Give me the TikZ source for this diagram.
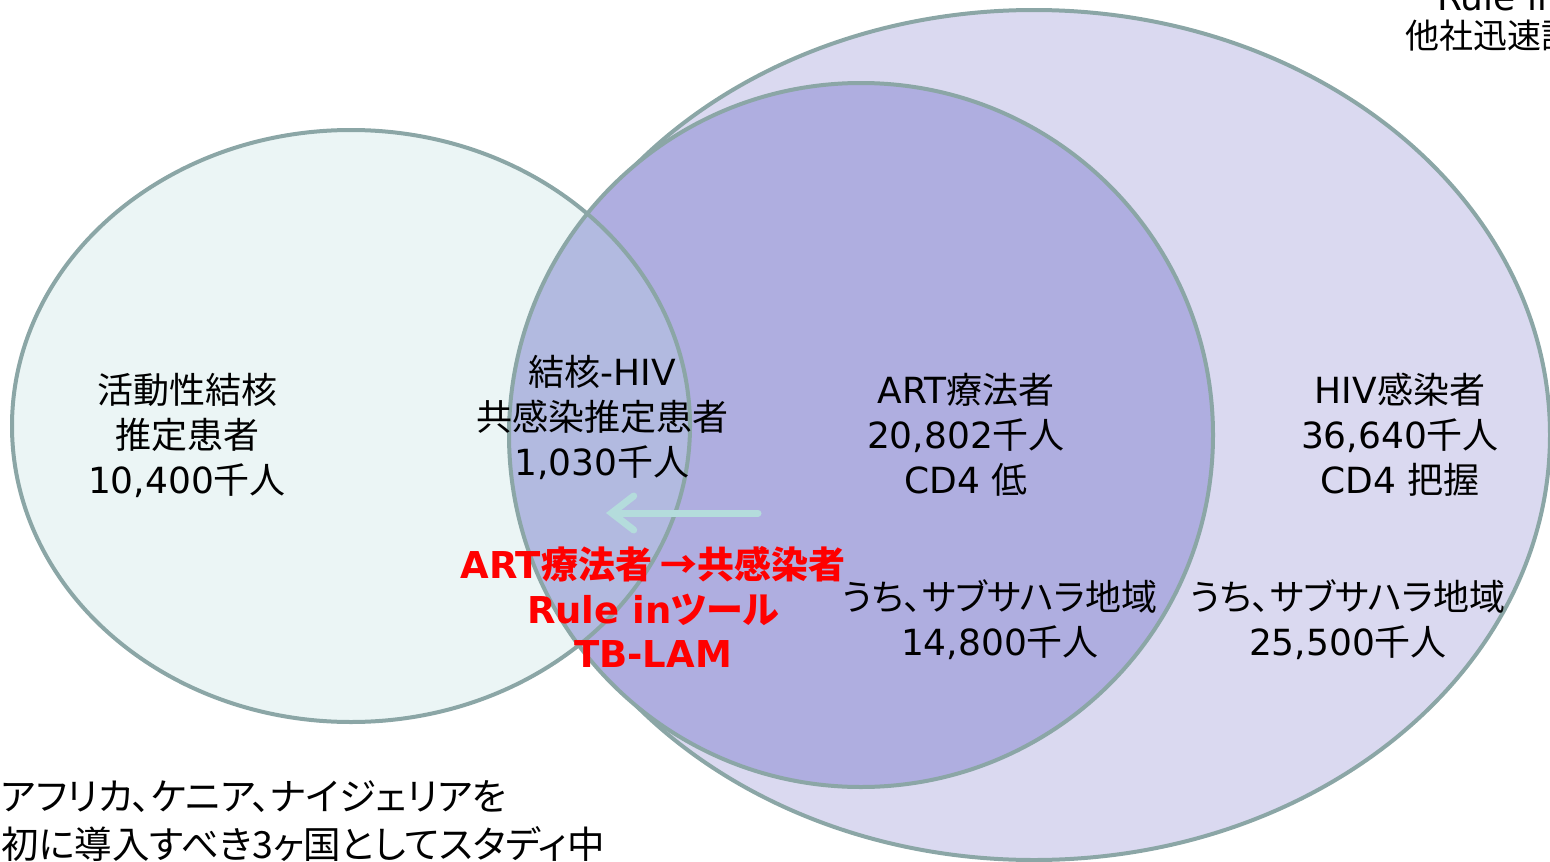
\documentclass[tikz,border=0pt]{standalone}
\usepackage{fontspec}
\setmainfont{DejaVu Sans}
\newfontfamily\jp[RawFeature=+palt]{Noto Sans CJK JP}
\usetikzlibrary{arrows.meta}
\definecolor{edgec}{HTML}{8BA6A6}
\definecolor{tbfill}{HTML}{EBF5F5}
\definecolor{hivfill}{HTML}{DAD9F0}
\definecolor{artfill}{HTML}{AFAEE0}
\definecolor{ovfill}{HTML}{B2BAE0}
\definecolor{arrowc}{HTML}{B4DCDC}
\definecolor{redt}{HTML}{FF0000}
\begin{document}
\begin{tikzpicture}[x=1pt,y=-1pt,
  txt/.style={align=center, font=\fontsize{36}{45}\selectfont, inner sep=0pt},
  redtxt/.style={txt, text=redt, font=\fontsize{37}{44.5}\selectfont\bfseries},
  outline/.style={draw=edgec, line width=4pt}]
\useasboundingbox (0,0) rectangle (1550,862);
\begin{scope}
\clip (0,0) rectangle (1550,862);
% HIV ellipse
\path[fill=hivfill, outline] (1034,435) ellipse [x radius=516, y radius=425];
% ART and TB fills
\path[fill=artfill] (861,435) circle [radius=352];
\path[fill=tbfill] (351,426) ellipse [x radius=339, y radius=296];
\begin{scope}
  \clip (351,426) ellipse [x radius=339, y radius=296];
  \path[fill=ovfill] (861,435) circle [radius=352];
\end{scope}
% outlines
\draw[outline] (861,435) circle [radius=352];
\draw[outline] (351,426) ellipse [x radius=339, y radius=296];
% arrow
\coordinate (arrS) at (758,513);
\coordinate (arrE) at (606,513);
\draw[arrowc, line width=7pt, line cap=round,
  -{Straight Barb[length=22pt,width=34pt,line cap=round]}] (arrS) -- (arrE);
% texts
\node[txt] (tb) at (187,435) {{\jp 活動性結核}\\{\jp 推定患者}\\10,400{\jp 千人}};
\node[txt] (co) at (602,417) {{\jp 結核}-HIV\\{\jp 共感染推定患者}\\1,030{\jp 千人}};
\node[txt] (art) at (966,435) {ART{\jp 療法者}\\20,802{\jp 千人}\\CD4 {\jp 低}};
\node[txt] (hiv) at (1400,435) {HIV{\jp 感染者}\\36,640{\jp 千人}\\CD4 {\jp 把握}};
\node[txt] (ssa1) at (1000,620) {{\jp うち、サブサハラ地域}\\14,800{\jp 千人}};
\node[txt] (ssa2) at (1348,620) {{\jp うち、サブサハラ地域}\\25,500{\jp 千人}};
\node[redtxt] (red) at (653,607) {ART{\jp 療法者 →共感染者}\\Rule in{\jp ツール}\\TB-LAM};
\node[anchor=base west, inner sep=0pt, align=left, font=\fontsize{37.5}{48}\selectfont] (note) at (1,858)
  {\jp アフリカ、ケニア、ナイジェリアを\\\jp 初に導入すべき3ヶ国としてスタディ中};
\node[anchor=base west, inner sep=0pt, font=\fontsize{36}{45}\selectfont] (rulein) at (1437,10) {Rule in};
\node[anchor=base west, inner sep=0pt, font=\fontsize{34}{45}\selectfont] (other) at (1405,48) {\jp 他社迅速診};
\end{scope}
\end{tikzpicture}
\end{document}
